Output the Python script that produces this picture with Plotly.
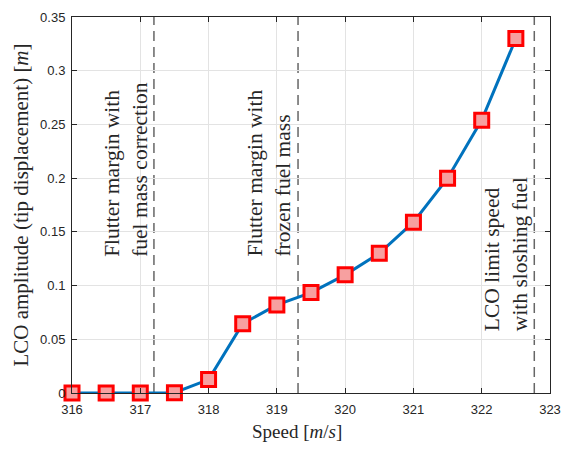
import plotly.graph_objects as go

speed = [316, 316.5, 317, 317.5, 318, 318.5, 319, 319.5, 320, 320.5, 321, 321.5, 322, 322.5]
amplitude = [0.0, 0.0, 0.0, 0.0003, 0.0125, 0.0645, 0.082, 0.0935, 0.110, 0.130, 0.159, 0.200, 0.254, 0.330]

marker_lines = [317.2, 319.31, 322.77]
notes = [
    (316.80, 0.125, "Flutter margin with<br>fuel mass correction"),
    (318.89, 0.125, "Flutter margin with<br>frozen fuel mass"),
    (322.36, 0.056, "LCO limit speed<br>with sloshing fuel"),
]
x_ticks = [316, 317, 318, 319, 320, 321, 322, 323]
y_ticks = [0, 0.05, 0.1, 0.15, 0.2, 0.25, 0.3, 0.35]
y_labels = ["0", "0.05", "0.1", "0.15", "0.2", "0.25", "0.3", "0.35"]

serif = "Liberation Serif"

fig = go.Figure()
fig.add_trace(go.Scatter(
    x=speed, y=amplitude, mode="lines+markers",
    line=dict(color="#0072BD", width=3),
    marker=dict(symbol="square", size=14, color="rgba(247,160,160,1)",
                line=dict(color="#FF0000", width=3)),
    showlegend=False, cliponaxis=False,
))

for xv in marker_lines:
    fig.add_shape(type="line", xref="x", yref="paper", x0=xv, x1=xv, y0=0, y1=1,
                  line=dict(color="#666666", width=1.5, dash="10px,6px"), layer="below")

for xv, yv, txt in notes:
    fig.add_annotation(x=xv, y=yv, xref="x", yref="y", text=txt, showarrow=False,
                       textangle=-90, xanchor="center", yanchor="bottom", align="left",
                       font=dict(family=serif, size=21.5, color="#262626"))

# x-axis title (placed slightly left of centre, as in the reference)
fig.add_annotation(x=0.47, y=-0.102, xref="paper", yref="paper",
                   text="Speed [<i>m</i>/<i>s</i>]", showarrow=False,
                   xanchor="center", yanchor="middle",
                   font=dict(family=serif, size=19, color="#262626"))

axis_common = dict(
    showline=True, linecolor="#262626", linewidth=1, mirror="ticks",
    ticks="inside", ticklen=5, tickcolor="#262626",
    showgrid=True, gridcolor="#e3e3e3", gridwidth=1, zeroline=False,
    tickfont=dict(family="Liberation Sans", size=13, color="#262626"),
)

fig.update_xaxes(range=[316, 323], tickvals=x_ticks, ticklabelstandoff=4, **axis_common)
fig.update_yaxes(range=[0, 0.35], tickvals=y_ticks, ticktext=y_labels, ticklabelstandoff=3,
                 title=dict(text="LCO amplitude (tip displacement) [<i>m</i>]", standoff=5,
                            font=dict(family=serif, size=21, color="#262626")),
                 **axis_common)

fig.update_layout(
    width=571, height=449,
    margin=dict(l=72, r=12, t=10, b=56),
    plot_bgcolor="white", paper_bgcolor="white",
)

fig.write_html("out.html")
